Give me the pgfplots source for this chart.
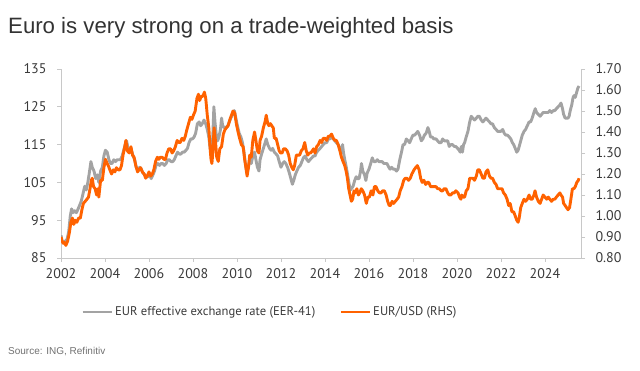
\documentclass[border=0pt]{standalone}
\usepackage{fontspec}
\usepackage{pgfplots}
\pgfplotsset{compat=1.18}
\setmainfont{Liberation Sans}
\newfontfamily\tickfont{PT Sans}
\definecolor{eergray}{HTML}{A3A3A3}
\definecolor{ingorange}{HTML}{FF6200}
\definecolor{axisgray}{HTML}{C8C8C8}
\definecolor{labelgray}{HTML}{3A3A3A}
\definecolor{titlegray}{HTML}{333333}
\definecolor{sourcegray}{HTML}{707070}

\begin{document}
\begin{tikzpicture}
\path[use as bounding box] (0pt,0pt) rectangle (640pt,-371pt);
\node[anchor=base west, inner sep=0pt, text=titlegray, font=\fontsize{22.2}{25}\selectfont] at (8pt,-34pt) {Euro is very strong on a trade-weighted basis};
\node[anchor=base west, inner sep=0pt, text=sourcegray, font=\fontsize{10}{12}\selectfont] at (8pt,-355pt) {Source: ING, Refinitiv};

\begin{axis}[
  scale only axis, width=520pt, height=189pt,
  at={(61pt,-258pt)}, anchor=south west,
  xmin=2002, xmax=2025.64, ymin=85, ymax=135,
  xtick={2002,2004,...,2024}, ytick={85,95,...,135},
  axis x line*=bottom, axis y line*=left,
  axis line style={draw=axisgray, line width=0.8pt, -},
  tick style={draw=axisgray, line width=0.8pt},
  tick align=outside, major tick length=4pt,
  ticklabel style={font=\tickfont\fontsize{14}{16}\selectfont, text=labelgray},
  xticklabel style={/pgf/number format/1000 sep=, yshift=-3pt},
  yticklabel style={xshift=-7pt},
  /pgf/number format/assume math mode=true,
]
\addplot[eergray, line width=2.9pt, line join=round] coordinates {
(2002.00,91) (2002.05,89.5) (2002.12,89) (2002.20,89.5) (2002.28,90) (2002.35,92) (2002.42,96) (2002.48,98) (2002.55,97) (2002.62,97.5) (2002.70,97) (2002.78,98) (2002.85,99) (2002.92,100)
(2003.00,102) (2003.08,104) (2003.15,103) (2003.22,105) (2003.30,108) (2003.36,110.5) (2003.42,109) (2003.50,108) (2003.58,106) (2003.65,107) (2003.72,105) (2003.80,108) (2003.88,109) (2003.95,112)
(2004.02,113.5) (2004.10,113) (2004.18,111) (2004.25,110) (2004.32,110) (2004.40,111) (2004.48,110.5) (2004.55,111) (2004.62,111) (2004.70,111) (2004.78,112) (2004.85,113.5) (2004.92,115) (2004.98,116)
(2005.05,114) (2005.12,113) (2005.20,113.5) (2005.28,112) (2005.35,111) (2005.42,109) (2005.50,108.5) (2005.58,109) (2005.65,108.5) (2005.72,107.5) (2005.80,107) (2005.88,106.5) (2005.95,106.5)
(2006.02,107) (2006.10,106) (2006.18,107) (2006.25,108) (2006.32,109.5) (2006.40,110) (2006.48,109.5) (2006.55,110) (2006.62,110) (2006.70,109.5) (2006.78,110) (2006.85,111) (2006.92,111)
(2007.00,110.5) (2007.08,110.5) (2007.15,111) (2007.22,112) (2007.30,113) (2007.38,112.5) (2007.45,112.5) (2007.52,113) (2007.60,113) (2007.68,113.5) (2007.75,114) (2007.82,115.5) (2007.90,116.5) (2007.98,116.5)
(2008.05,117) (2008.12,118) (2008.20,120.5) (2008.28,121) (2008.35,120) (2008.42,120.5) (2008.50,121.5) (2008.58,120.5) (2008.65,119) (2008.72,117) (2008.78,114) (2008.85,114) (2008.90,117) (2008.95,125)
(2009.00,121) (2009.05,118) (2009.12,116) (2009.18,117) (2009.25,119) (2009.30,122) (2009.35,120) (2009.42,119.5) (2009.50,119.5) (2009.58,120) (2009.65,121) (2009.72,122) (2009.80,123) (2009.88,124) (2009.95,122)
(2010.02,120) (2010.10,118) (2010.18,117) (2010.25,115.5) (2010.32,113) (2010.38,110) (2010.45,107.5) (2010.52,109) (2010.58,111) (2010.65,110) (2010.72,112) (2010.80,113) (2010.86,111) (2010.93,109)
(2011.00,108) (2011.05,111) (2011.12,112.5) (2011.20,114) (2011.28,115.5) (2011.33,116.5) (2011.40,115) (2011.48,114) (2011.55,113.5) (2011.62,114) (2011.70,113) (2011.78,112.5) (2011.85,112) (2011.92,110.5)
(2012.00,109) (2012.08,110) (2012.15,110.5) (2012.22,110) (2012.30,109) (2012.38,107.5) (2012.45,106) (2012.52,104.5) (2012.58,105.5) (2012.65,107) (2012.72,108) (2012.80,109) (2012.88,109.5) (2012.95,110.5)
(2013.02,111.5) (2013.10,112) (2013.18,111) (2013.25,110.5) (2013.32,111) (2013.40,111.5) (2013.48,112) (2013.55,112) (2013.62,113) (2013.70,113.5) (2013.78,114) (2013.85,114.5) (2013.92,115)
(2014.00,115.5) (2014.08,115.5) (2014.15,116.5) (2014.22,116.5) (2014.30,117) (2014.38,116.5) (2014.45,116) (2014.52,115.5) (2014.60,115) (2014.68,114) (2014.75,113) (2014.80,115) (2014.84,113) (2014.90,111) (2014.97,109)
(2015.03,107) (2015.10,104.5) (2015.16,103) (2015.22,103.5) (2015.28,104) (2015.35,105.5) (2015.42,106.5) (2015.48,106) (2015.55,106) (2015.62,108) (2015.66,110) (2015.72,108) (2015.80,107) (2015.86,105.5) (2015.92,107.5)
(2016.00,108.5) (2016.08,110) (2016.15,111.5) (2016.22,110.5) (2016.30,110.5) (2016.38,111) (2016.45,110.5) (2016.52,110.5) (2016.60,110.5) (2016.68,110) (2016.75,110) (2016.82,110) (2016.90,109) (2016.96,108.5)
(2017.03,109) (2017.10,108.5) (2017.18,108.5) (2017.25,108) (2017.32,108.5) (2017.40,111) (2017.48,113) (2017.55,115) (2017.62,115) (2017.70,116.5) (2017.78,116) (2017.85,115.5) (2017.92,116.5)
(2018.00,117.5) (2018.08,117.5) (2018.15,118) (2018.22,118.5) (2018.30,117.5) (2018.38,116) (2018.45,116.5) (2018.52,117.5) (2018.60,118) (2018.68,119.5) (2018.74,118.5) (2018.80,117) (2018.88,117) (2018.95,116.5)
(2019.05,116.5) (2019.12,116) (2019.20,115.5) (2019.28,115.5) (2019.35,116.5) (2019.42,116) (2019.50,116) (2019.58,116) (2019.65,114.5) (2019.72,115) (2019.80,115) (2019.88,114.5) (2019.95,114.5)
(2020.03,114) (2020.10,113.5) (2020.15,113) (2020.20,114.5) (2020.25,113) (2020.30,115) (2020.35,115.5) (2020.42,117) (2020.50,118.5) (2020.58,121) (2020.65,122.5) (2020.72,122) (2020.80,121.5) (2020.88,122) (2020.95,122.5)
(2021.02,122.5) (2021.10,121.5) (2021.18,121) (2021.25,121.5) (2021.32,122) (2021.40,121.5) (2021.48,121) (2021.55,120.5) (2021.62,120.5) (2021.70,119.5) (2021.78,119) (2021.85,118.5) (2021.92,118.5)
(2022.00,118.5) (2022.08,119) (2022.15,118) (2022.22,117.5) (2022.30,117.5) (2022.38,117) (2022.45,116.5) (2022.52,115.5) (2022.58,115) (2022.65,114) (2022.72,113) (2022.78,113.5) (2022.83,114.5) (2022.90,116) (2022.97,117.5)
(2023.05,118.5) (2023.12,119) (2023.20,120) (2023.28,121) (2023.35,121) (2023.42,122) (2023.50,123.5) (2023.56,124.5) (2023.62,123.5) (2023.70,123) (2023.78,122.5) (2023.85,123) (2023.92,123.5)
(2024.00,123.5) (2024.08,123.5) (2024.15,123.5) (2024.22,124) (2024.30,123.5) (2024.38,124) (2024.45,124) (2024.52,124.5) (2024.60,125) (2024.68,125.5) (2024.73,126) (2024.80,124.5) (2024.85,123) (2024.92,122) (2024.98,122)
(2025.05,122) (2025.10,122.5) (2025.15,124) (2025.22,125.5) (2025.28,127.5) (2025.33,128) (2025.38,127.5) (2025.45,129) (2025.50,130) (2025.55,130.5)
};
\end{axis}

\begin{axis}[
  scale only axis, width=520pt, height=189pt,
  at={(61pt,-258pt)}, anchor=south west,
  xmin=2002, xmax=2025.64, ymin=0.8, ymax=1.7,
  ytick={0.8,0.9,...,1.71},
  axis x line=none, axis y line*=right,
  axis line style={draw=axisgray, line width=0.8pt, -},
  tick style={draw=axisgray, line width=0.8pt},
  tick align=outside, major tick length=4pt,
  ticklabel style={font=\tickfont\fontsize{14}{16}\selectfont, text=labelgray},
  yticklabel style={/pgf/number format/.cd, fixed, fixed zerofill, precision=2, /tikz/.cd, xshift=7pt},
  /pgf/number format/assume math mode=true,
  legend style={at={(0.0385,-0.2857)}, anchor=west, draw=none, fill=none, inner sep=0pt,
    font=\tickfont\fontsize{12.6}{15}\selectfont, text=labelgray,
    legend columns=2, /tikz/every even column/.append style={column sep=22pt},
    nodes={inner xsep=2pt, inner ysep=1pt}},
  legend cell align=left,
  legend image code/.code={\draw[#1, line width=2.9pt] (0pt,0pt) -- (29pt,0pt);},
]
\addlegendimage{eergray}
\addlegendentry{EUR effective exchange rate (EER-41)}
\addplot[ingorange, line width=2.9pt, line join=round] coordinates {
(2002.00,0.90) (2002.05,0.88) (2002.10,0.87) (2002.15,0.875) (2002.22,0.86) (2002.30,0.88) (2002.38,0.92) (2002.45,0.97) (2002.52,0.99) (2002.58,0.96) (2002.65,0.98) (2002.72,0.97) (2002.80,0.99) (2002.88,0.99) (2002.95,1.03)
(2003.02,1.06) (2003.10,1.07) (2003.18,1.08) (2003.25,1.09) (2003.32,1.13) (2003.38,1.17) (2003.42,1.18) (2003.48,1.14) (2003.55,1.13) (2003.62,1.10) (2003.68,1.13) (2003.72,1.09) (2003.80,1.17) (2003.88,1.17) (2003.95,1.23)
(2004.02,1.27) (2004.10,1.25) (2004.15,1.24) (2004.22,1.22) (2004.30,1.20) (2004.38,1.22) (2004.45,1.21) (2004.52,1.23) (2004.60,1.22) (2004.68,1.22) (2004.75,1.24) (2004.82,1.29) (2004.90,1.33) (2004.95,1.36)
(2005.02,1.31) (2005.10,1.30) (2005.18,1.33) (2005.25,1.29) (2005.32,1.28) (2005.40,1.24) (2005.48,1.21) (2005.55,1.22) (2005.62,1.23) (2005.70,1.21) (2005.78,1.20) (2005.85,1.18) (2005.92,1.19)
(2006.00,1.21) (2006.08,1.19) (2006.15,1.20) (2006.22,1.22) (2006.30,1.26) (2006.38,1.28) (2006.45,1.27) (2006.52,1.28) (2006.60,1.28) (2006.68,1.27) (2006.75,1.27) (2006.82,1.30) (2006.90,1.32) (2006.98,1.32)
(2007.05,1.30) (2007.12,1.31) (2007.20,1.33) (2007.28,1.36) (2007.35,1.35) (2007.42,1.35) (2007.50,1.37) (2007.58,1.36) (2007.65,1.38) (2007.72,1.41) (2007.80,1.44) (2007.88,1.47) (2007.95,1.46)
(2008.02,1.48) (2008.10,1.50) (2008.18,1.56) (2008.25,1.58) (2008.30,1.55) (2008.38,1.57) (2008.45,1.57) (2008.52,1.59) (2008.58,1.56) (2008.65,1.48) (2008.72,1.42) (2008.78,1.32) (2008.82,1.27) (2008.86,1.25) (2008.90,1.30) (2008.96,1.42)
(2009.02,1.36) (2009.08,1.28) (2009.15,1.26) (2009.22,1.32) (2009.30,1.33) (2009.38,1.39) (2009.45,1.41) (2009.52,1.42) (2009.60,1.43) (2009.68,1.46) (2009.75,1.48) (2009.82,1.50) (2009.90,1.49) (2009.97,1.44)
(2010.05,1.40) (2010.12,1.37) (2010.20,1.34) (2010.28,1.33) (2010.35,1.27) (2010.42,1.22) (2010.46,1.19) (2010.52,1.23) (2010.58,1.29) (2010.65,1.28) (2010.72,1.36) (2010.80,1.40) (2010.86,1.36) (2010.93,1.31)
(2011.00,1.30) (2011.05,1.36) (2011.12,1.38) (2011.20,1.42) (2011.28,1.45) (2011.33,1.48) (2011.40,1.44) (2011.45,1.43) (2011.52,1.44) (2011.58,1.43) (2011.65,1.42) (2011.70,1.37) (2011.78,1.37) (2011.85,1.34) (2011.92,1.31) (2011.98,1.30)
(2012.05,1.30) (2012.12,1.32) (2012.20,1.32) (2012.28,1.31) (2012.35,1.29) (2012.42,1.25) (2012.50,1.23) (2012.56,1.22) (2012.62,1.24) (2012.70,1.29) (2012.78,1.29) (2012.85,1.29) (2012.92,1.31)
(2013.00,1.32) (2013.08,1.35) (2013.15,1.31) (2013.22,1.29) (2013.28,1.30) (2013.35,1.30) (2013.42,1.31) (2013.48,1.32) (2013.55,1.30) (2013.62,1.33) (2013.70,1.34) (2013.78,1.36) (2013.85,1.35) (2013.92,1.37)
(2014.00,1.37) (2014.08,1.36) (2014.15,1.38) (2014.22,1.38) (2014.30,1.39) (2014.38,1.37) (2014.45,1.36) (2014.52,1.36) (2014.60,1.34) (2014.68,1.31) (2014.75,1.28) (2014.82,1.26) (2014.90,1.24) (2014.97,1.21)
(2015.02,1.18) (2015.08,1.13) (2015.14,1.10) (2015.20,1.07) (2015.26,1.08) (2015.32,1.12) (2015.38,1.11) (2015.45,1.13) (2015.52,1.10) (2015.58,1.11) (2015.65,1.13) (2015.72,1.12) (2015.80,1.10) (2015.88,1.06) (2015.95,1.09)
(2016.02,1.09) (2016.10,1.12) (2016.18,1.10) (2016.25,1.14) (2016.32,1.14) (2016.40,1.12) (2016.48,1.11) (2016.55,1.11) (2016.62,1.12) (2016.70,1.12) (2016.78,1.10) (2016.85,1.07) (2016.92,1.05) (2016.98,1.05)
(2017.05,1.07) (2017.12,1.06) (2017.20,1.07) (2017.28,1.08) (2017.35,1.09) (2017.42,1.12) (2017.50,1.14) (2017.58,1.17) (2017.65,1.18) (2017.72,1.18) (2017.80,1.17) (2017.88,1.18) (2017.95,1.20)
(2018.05,1.22) (2018.12,1.23) (2018.20,1.24) (2018.28,1.22) (2018.35,1.18) (2018.42,1.16) (2018.50,1.17) (2018.58,1.15) (2018.65,1.16) (2018.72,1.16) (2018.80,1.14) (2018.88,1.14) (2018.95,1.14)
(2019.05,1.14) (2019.12,1.13) (2019.20,1.13) (2019.28,1.12) (2019.35,1.12) (2019.42,1.13) (2019.50,1.13) (2019.58,1.11) (2019.65,1.10) (2019.72,1.10) (2019.80,1.11) (2019.88,1.11) (2019.95,1.12)
(2020.05,1.11) (2020.12,1.09) (2020.18,1.08) (2020.22,1.10) (2020.28,1.09) (2020.35,1.09) (2020.42,1.12) (2020.50,1.13) (2020.58,1.18) (2020.65,1.18) (2020.72,1.18) (2020.80,1.17) (2020.88,1.19) (2020.95,1.22)
(2021.02,1.22) (2021.10,1.20) (2021.18,1.18) (2021.25,1.18) (2021.32,1.21) (2021.40,1.22) (2021.48,1.19) (2021.55,1.18) (2021.62,1.18) (2021.70,1.16) (2021.78,1.15) (2021.85,1.13) (2021.92,1.13) (2021.98,1.13)
(2022.05,1.13) (2022.12,1.11) (2022.20,1.10) (2022.28,1.08) (2022.35,1.05) (2022.42,1.06) (2022.50,1.02) (2022.58,1.02) (2022.65,1.00) (2022.72,0.98) (2022.78,0.97) (2022.83,0.99) (2022.90,1.04) (2022.97,1.06)
(2023.05,1.08) (2023.12,1.07) (2023.20,1.08) (2023.28,1.10) (2023.35,1.08) (2023.42,1.08) (2023.50,1.10) (2023.55,1.12) (2023.62,1.09) (2023.70,1.07) (2023.78,1.06) (2023.85,1.08) (2023.92,1.10)
(2024.00,1.09) (2024.08,1.08) (2024.15,1.09) (2024.22,1.08) (2024.30,1.07) (2024.38,1.08) (2024.45,1.08) (2024.52,1.09) (2024.60,1.10) (2024.68,1.11) (2024.73,1.10) (2024.80,1.09) (2024.85,1.06) (2024.92,1.05) (2024.98,1.04)
(2025.05,1.03) (2025.12,1.04) (2025.18,1.08) (2025.25,1.13) (2025.32,1.13) (2025.38,1.14) (2025.45,1.16) (2025.52,1.17) (2025.55,1.18)
};
\addlegendentry{EUR/USD (RHS)}
\end{axis}
\end{tikzpicture}
\end{document}
